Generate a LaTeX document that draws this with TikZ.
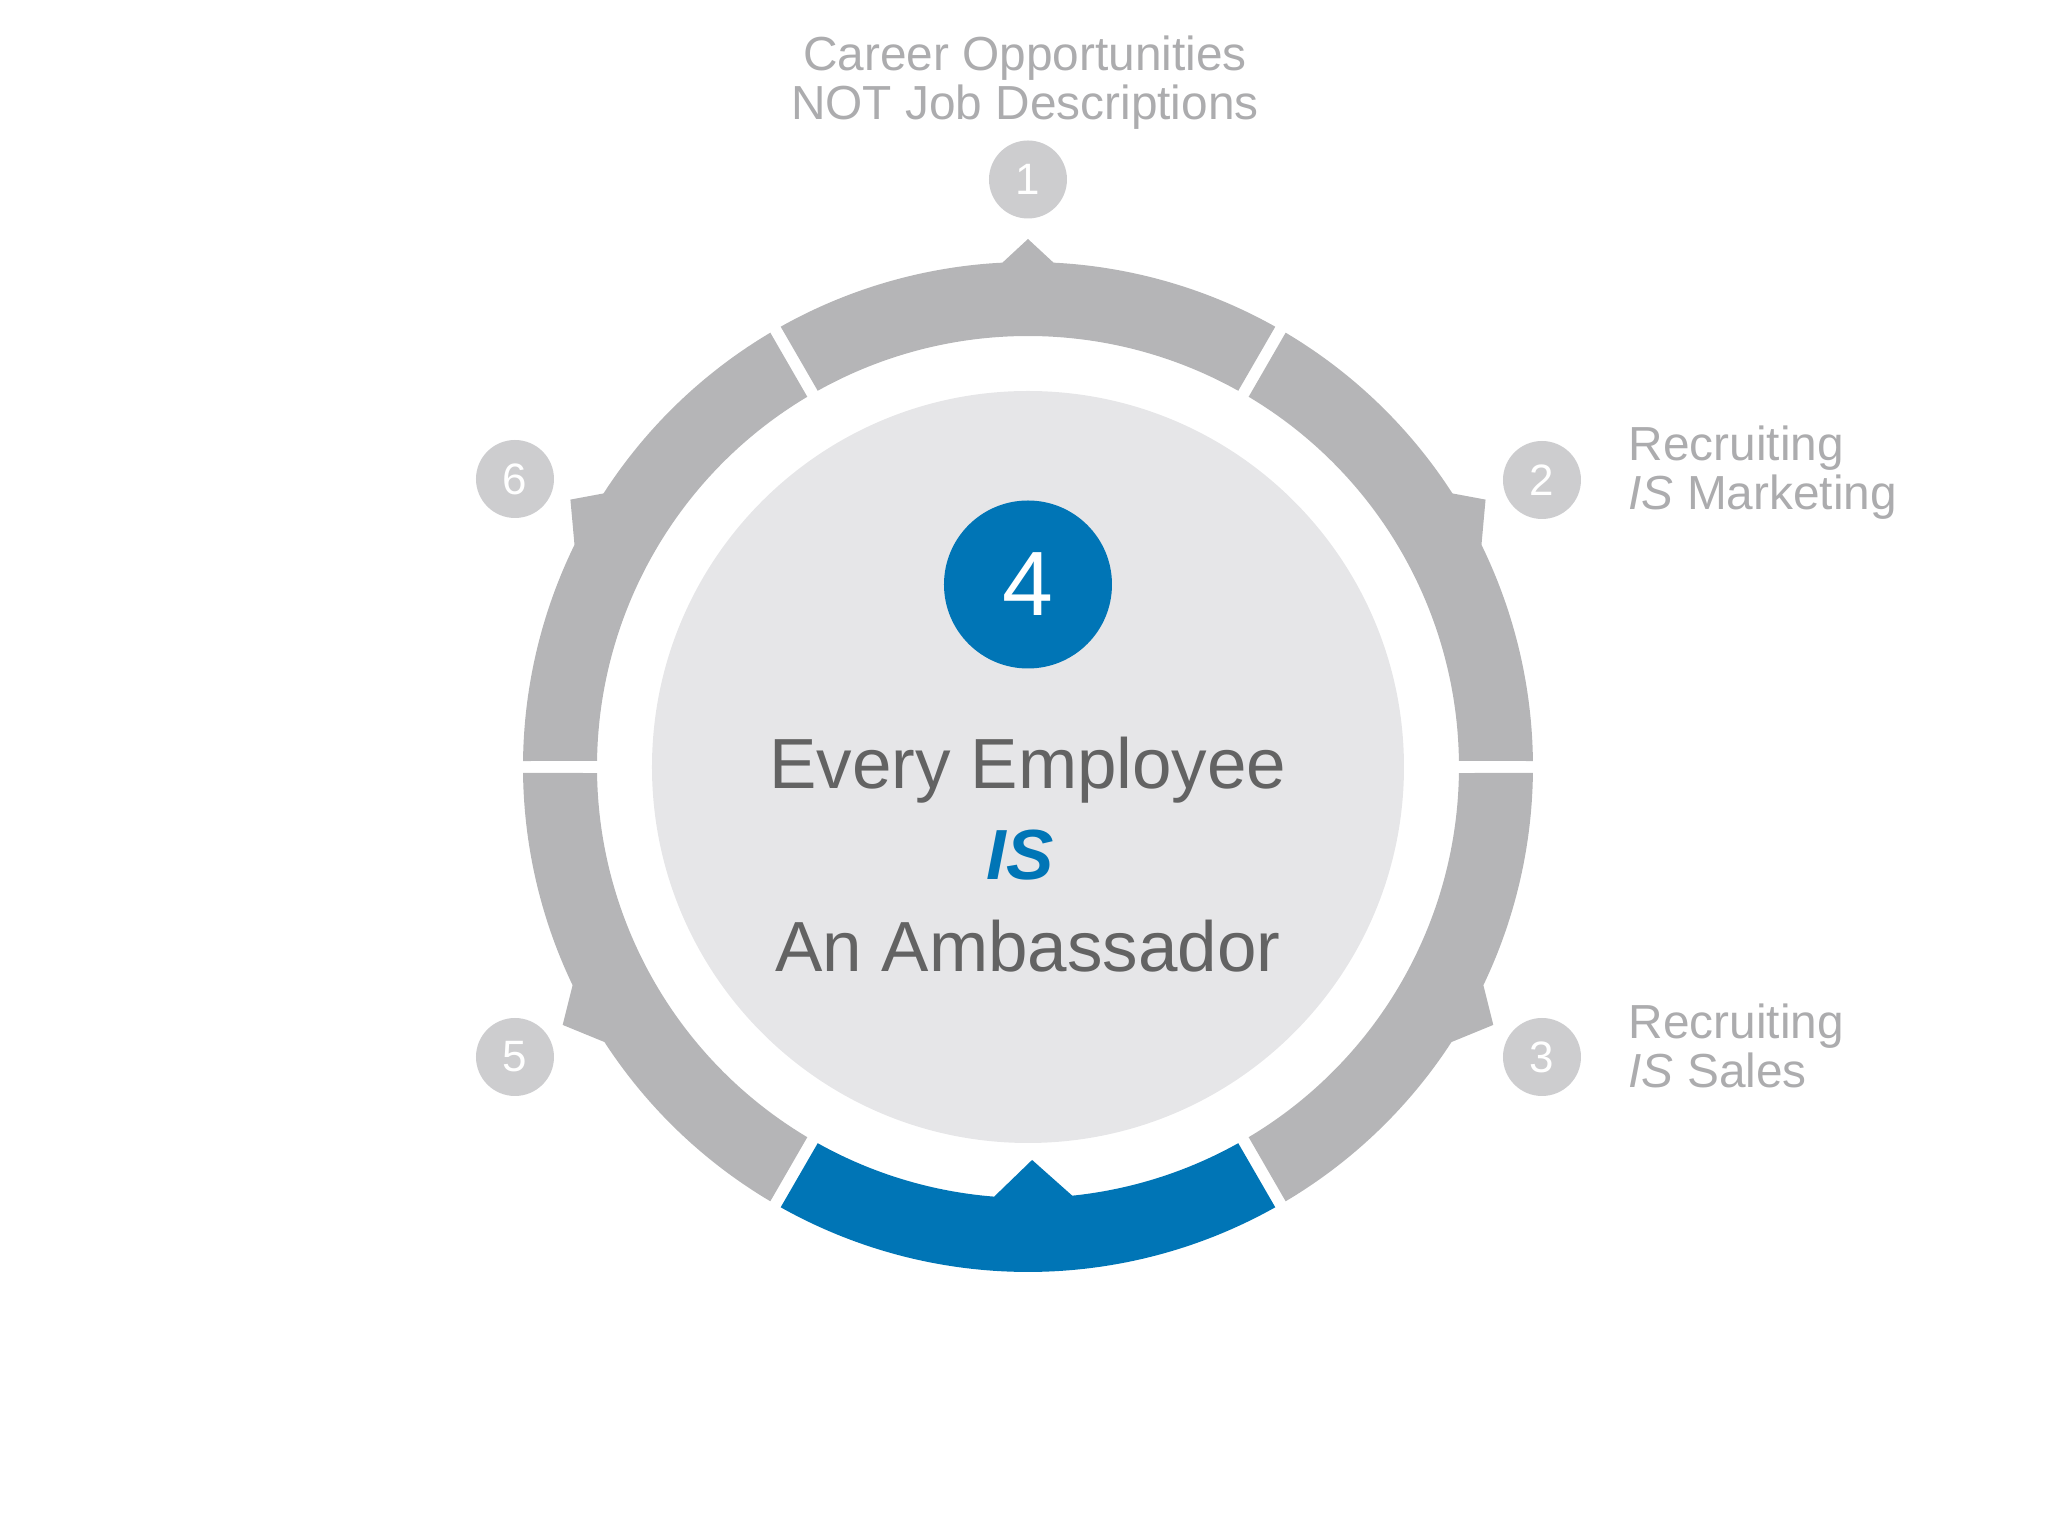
\documentclass[tikz,border=0pt]{standalone}
\usepackage{fontspec}
\setmainfont{Liberation Sans}
\definecolor{ringgray}{HTML}{B5B5B7}
\definecolor{ringblue}{HTML}{0075B6}
\definecolor{diskgray}{HTML}{E6E6E8}
\definecolor{dotgray}{HTML}{CDCDCF}
\definecolor{labelgray}{HTML}{ACACAE}
\definecolor{textgray}{HTML}{636363}
\begin{document}
\begin{tikzpicture}[
    numdot/.style ={circle, fill=dotgray, text=white, minimum size=0.78cm, inner sep=0pt, font=\fontsize{12.5}{14}\selectfont},
    sidelabel/.style ={text=labelgray, inner sep=0pt, text depth=0pt, font=\fontsize{13.6}{14}\selectfont}]
   \useasboundingbox (-10.28,-7.69) rectangle (10.20,7.67);
   \fill[diskgray] (0,0) circle (3.76);
   \foreach \c/\bl/\p/\br/\r in {90/87.1/90/92.9/5.28, 30/26.1/30.3/32.8/5.3, -30/-33.0/-29.0/-25.6/5.32,
                                 210/205.6/209.0/213.0/5.32, 150/147.2/149.7/153.9/5.3}
      \fill[ringgray] ({\c-29.2}:4.31) arc[start angle=\c-29.2, end angle=\c+29.2, radius=4.31]
         -- ({\c+29.32}:5.05) arc[start angle=\c+29.32, end angle=\br, radius=5.05]
         -- (\p:\r) -- (\bl:5.05) arc[start angle=\bl, end angle=\c-29.32, radius=5.05] -- cycle;
   \fill[ringblue] (240.8:4.31) arc[start angle=240.8, end angle=265.5, radius=4.31]
      -- (270.6:3.93) -- (275.9:4.31) arc[start angle=275.9, end angle=299.2, radius=4.31]
      -- (299.32:5.05) arc[start angle=299.32, end angle=240.68, radius=5.05] -- cycle;
   \node[numdot] (n1) at (0,5.875) {1};
   \node[numdot] (n2) at (5.14,2.87) {2};
   \node[numdot] (n3) at (5.14,-2.90) {3};
   \node[numdot] (n5) at (-5.13,-2.90) {5};
   \node[numdot] (n6) at (-5.13,2.88) {6};
   \node[circle, fill=ringblue, text=white, minimum size=1.68cm, inner sep=0pt, font=\fontsize{26}{30}\selectfont] (n4) at (0,1.825) {4};
   \node[sidelabel, anchor=south, align=center] (career) at (-0.03,6.47) {Career Opportunities\\NOT Job Descriptions};
   \node[sidelabel, anchor=south west, align=left] (marketing) at (6.00,2.57) {Recruiting\\\textit{IS} Marketing};
   \node[sidelabel, anchor=south west, align=left] (sales) at (6.00,-3.21) {Recruiting\\\textit{IS} Sales};
   \node[text=textgray, align=center, anchor=south, inner sep=0pt, text depth=0pt, font=\fontsize{20.2}{26}\selectfont] (motto) at (0,-2.05)
      {Every Employee\\{\color{ringblue}\bfseries\itshape IS\hspace*{0.16cm}}\\An Ambassador};
\end{tikzpicture}
\end{document}
